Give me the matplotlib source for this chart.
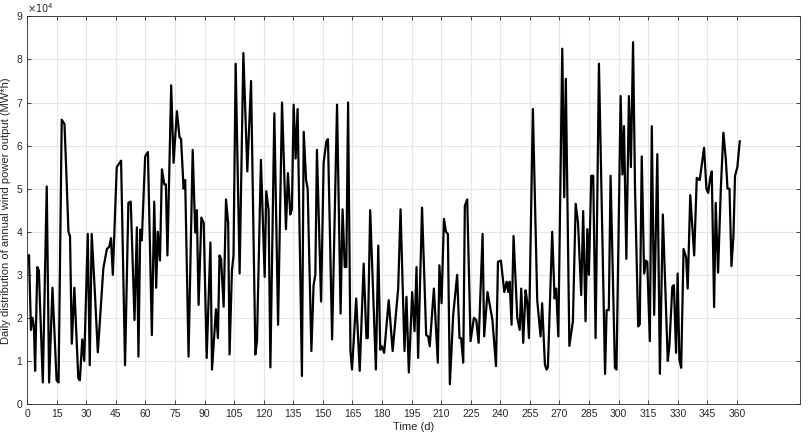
import matplotlib
matplotlib.use("Agg")
import matplotlib.pyplot as plt

# turning points: day, output (x1e4 MW*h)
days = [1, 2, 2.8, 3.5, 4.1, 5.2, 6, 8, 10, 11.2, 12.9, 15, 16, 17.6, 19, 20, 21, 21.8, 22.7, 24,
        26, 26.8, 28, 29, 30.8, 31.8, 32.8, 34.5, 35.9, 38.7, 40.5, 41.7, 42.6, 43.5, 45.5, 47.7,
        49.7, 51.4, 52.6, 54.5, 55.7, 56.5, 57.4, 58.2, 59.9, 61.3, 63.3, 64.5, 65.5, 66.3, 67.4,
        68.4, 69.6, 70.4, 71.2, 73.1, 74.3, 76, 77.3, 78.1, 79.4, 80.2, 81.9, 84, 85.3, 86.1, 87,
        88.4, 89.6, 91.1, 93, 93.8, 95.8, 96.8, 97.6, 98.4, 99.7, 100.9, 102, 102.7, 103.9, 104.7,
        105.8, 107.8, 109.7, 111.7, 113.6, 115.8, 116.6, 118.6, 120.5, 121.3, 122.5, 123.4, 125.4,
        127.3, 129.3, 131.3, 132.3, 133.5, 134.3, 135.2, 136.2, 137.2, 139.4, 140.3, 141.5, 142.3,
        144.2, 145.3, 146.2, 147, 149.1, 150.4, 151.8, 152.6, 154.7, 157.2, 159, 160, 161.1, 161.9,
        162.8, 164, 164.8, 166.9, 168.7, 170.7, 172.1, 172.8, 174, 176.9, 178.1, 179.1, 180, 181.1,
        183.4, 185.4, 188.2, 189.4, 191.4, 192.4, 193.6, 195.3, 196.5, 197.5, 198.3, 200.3, 202.4,
        203.4, 204.2, 206.3, 208.3, 209.1, 210.2, 211.4, 212.4, 213.4, 214.4, 216.1, 218.1, 219.3,
        220.1, 221.2, 222, 223.2, 224.9, 226.6, 227.8, 229, 231, 231.8, 233.5, 236, 237.8, 238.8,
        240.3, 242, 243.2, 244, 244.7, 245.7, 246.7, 248.6, 249.8, 250.6, 251.6, 252.8, 253.6,
        254.5, 256.5, 258.7, 260.4, 261.2, 262.6, 263.4, 264.1, 266.3, 267.5, 268.3, 269.4, 271.4,
        272.4, 273.2, 275, 276.8, 278.2, 279.4, 281, 282, 283.2, 284.1, 284.9, 286.1, 287.1, 288.3,
        290, 293.1, 293.9, 295, 295.9, 298.1, 298.9, 301, 301.9, 302.7, 303.9, 305.2, 306.2, 307.3,
        308.3, 309.9, 310.7, 311.7, 312.9, 313.7, 314.5, 315.8, 316.8, 318, 319.6, 320.9, 322.4,
        324.9, 325.7, 327.2, 328, 329.1, 329.9, 330.8, 331.7, 332.9, 334.2, 335, 336.3, 338.3,
        339.6, 341.1, 342, 343.3, 344.5, 345.4, 346.4, 347.2, 348.4, 349.2, 350.4, 351.8, 353.1,
        354.3, 355.2, 356.2, 357.2, 358.2, 359, 360.2, 361.4]
power = [3.45, 1.72, 2.0, 1.8, 0.77, 3.18, 3.1, 0.5, 5.05, 0.5, 2.7, 0.55, 0.5, 6.6, 6.5, 5.3, 4.0, 3.9, 1.4, 2.7,
         0.6, 0.55, 1.5, 1.0, 3.95, 0.9, 3.95, 2.5, 1.2, 3.15, 3.6, 3.65, 3.85, 3.0, 5.5, 5.65,
         0.9, 4.67, 4.7, 1.95, 4.1, 1.1, 4.05, 3.8, 5.75, 5.85, 1.6, 4.7, 2.7, 4.0, 3.33,
         5.45, 5.1, 5.1, 3.45, 7.4, 5.6, 6.8, 6.2, 6.15, 5.0, 5.2, 1.1, 5.9, 3.98, 4.5, 2.3,
         4.33, 4.2, 1.07, 3.75, 0.8, 2.2, 1.53, 3.45, 3.37, 2.26, 4.75, 4.2, 1.15, 3.1, 3.45,
         7.9, 3.03, 8.15, 5.4, 7.5, 1.15, 1.45, 5.67, 2.95, 4.94, 4.5, 0.85, 6.75,
         1.84, 7.0, 4.06, 5.36, 4.4, 4.52, 6.95, 5.7, 6.85, 0.65, 6.32, 5.2, 5.0,
         1.23, 2.76, 3.0, 5.9, 2.38, 5.6, 6.1, 6.15, 1.5, 6.95, 2.1, 4.52, 3.18, 3.18,
         7.0, 1.23, 0.8, 2.45, 0.77, 3.26, 1.53, 1.53, 4.5, 0.8, 3.68, 1.26, 1.34, 1.19,
         2.41, 1.23, 2.68, 4.52, 1.23, 2.49, 0.73, 2.6, 1.69, 3.18, 1.07, 4.56, 1.6,
         1.57, 1.34, 2.68, 0.96, 3.22, 2.34, 4.3, 4.0, 3.95, 0.46, 2.07, 3.0, 1.53,
         1.53, 0.96, 4.6, 4.75, 1.46, 2.0, 1.95, 1.42, 3.95, 1.57, 2.6, 1.95, 0.88, 3.3,
         3.33, 2.6, 2.84, 2.6, 2.84, 1.84, 3.9, 2.0, 1.72, 2.68, 1.42, 2.64, 2.38,
         1.53, 6.85, 2.41, 1.57, 2.34, 0.92, 0.8, 0.85, 4.0, 2.45, 2.68, 1.57, 8.25,
         4.8, 7.55, 1.35, 1.92, 4.65, 4.2, 2.53, 4.48, 1.92, 4.06, 3.0, 5.3, 5.3, 1.53,
         7.9, 0.7, 2.18, 2.18, 5.3, 0.84, 0.8, 7.15, 5.33, 6.45, 3.37, 7.15, 5.5, 8.4,
         5.0, 1.8, 1.85, 5.75, 3.03, 3.33, 3.3, 1.46, 6.45, 2.07, 5.8, 0.7, 4.4,
         1.0, 1.34, 2.72, 2.76, 1.19, 3.03, 1.03, 0.84, 3.6, 3.4, 2.68, 4.85, 3.45,
         5.25, 5.2, 5.5, 5.95, 5.0, 4.9, 5.25, 5.4, 2.25, 4.67, 3.05, 5.0, 6.3,
         5.7, 5.0, 5.0, 3.2, 3.9, 5.3, 5.5, 6.1]

xticks = list(range(0, 361, 15))
yticks = list(range(0, 10))

plt.rcParams['font.family'] = ['Liberation Sans', 'DejaVu Sans']

fig = plt.figure(figsize=(8.09, 4.37), dpi=100)
ax = fig.add_axes([0.0334, 0.0755, 0.9556, 0.887])

ax.plot(days, power, color='black', lw=1.6, zorder=5)

ax.set_xlim(0, 392)
ax.set_ylim(0, 9)
ax.set_xticks(xticks)
ax.set_yticks(yticks)
ax.grid(color='#e6e6e6', lw=0.8, zorder=0)
ax.tick_params(direction='in', top=True, right=True, labelsize=7.5,
               colors='#262626', length=3, width=0.6)
for s in ax.spines.values():
    s.set_color('#262626')
    s.set_linewidth(0.6)

ax.set_xlabel('Time (d)', fontsize=8, color='#262626', labelpad=2)
ax.set_ylabel('Daily distribution of annual wind power output (MW*h)', fontsize=8,
              color='#262626', labelpad=4)
ax.text(0, 1.004, r'$\times10^4$', transform=ax.transAxes, fontsize=7,
        color='#262626', va='bottom', ha='left')

fig.savefig('out.png', dpi=100)
plt.close(fig)
